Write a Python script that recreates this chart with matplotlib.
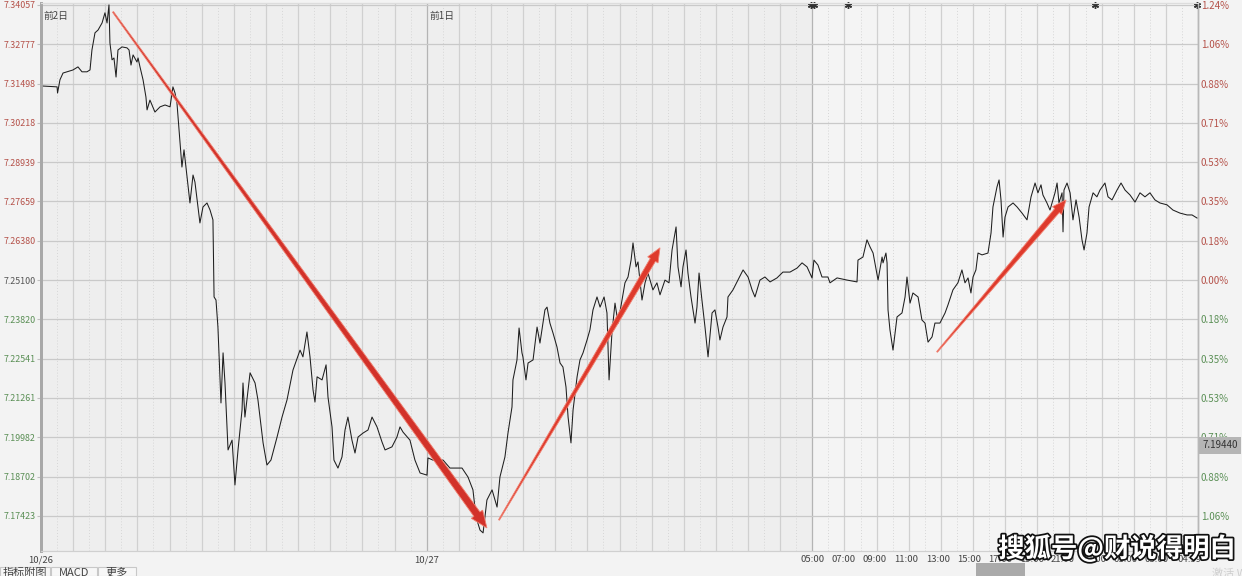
import matplotlib
matplotlib.use('Agg')
import matplotlib.pyplot as plt
import matplotlib.patheffects as pe
from matplotlib.patches import Polygon, Rectangle
from matplotlib.transforms import IdentityTransform
import numpy as np

plt.rcParams['font.family'] = ['Noto Sans CJK SC', 'DejaVu Sans']

# ---------------- data ----------------
# time in hours since the start of 10/26, price of the pair
hours_a = [0.00,1.00,1.03,1.18,1.37,1.99,2.30,2.55,2.86,3.05,3.17,3.36,3.55,3.80,3.98,4.11,4.23,4.29,4.42,4.54,
           4.67,4.79,5.04,5.35,5.48,5.60,5.73,5.97,6.04,6.16,6.35,6.53,6.60,6.78,7.09,7.41,7.72,8.03,8.21,8.34,
           8.46,8.59,8.77,8.90,9.09,9.27,9.46,9.58,9.89,10.08,10.33,10.52,10.70,10.77]
price_a = [7.3142,7.3139,7.3119,7.3162,7.3184,7.3194,7.3204,7.3188,7.3188,7.3194,7.3259,7.3315,7.3324,7.3347,7.3380,
           7.3347,7.3406,7.3282,7.3227,7.3233,7.3171,7.3259,7.3269,7.3266,7.3259,7.3210,7.3243,7.3220,7.3233,7.3204,
           7.3162,7.3106,7.3064,7.3096,7.3057,7.3074,7.3080,7.3074,7.3139,7.3119,7.3087,7.2999,7.2878,7.2934,7.2846,
           7.2761,7.2852,7.2829,7.2696,7.2748,7.2761,7.2738,7.2706,7.2455]

hours_b = [10.89,11.01,11.20,11.33,11.45,11.64,11.89,12.07,12.26,12.51,12.57,12.69,13.01,13.32,13.50,13.82,14.06,
           14.31,14.69,15.00,15.31,15.68,16.12,16.30,16.55,16.74,16.93,17.05,17.18,17.49,17.74,17.86,18.11,18.23,
           18.48,18.73,18.92,19.10,19.35,19.54,19.73,20.04,20.35,20.60,20.91,21.22,21.41,21.84,22.15,22.34,22.53,
           22.96,23.27,23.59,24.02,24.08,24.39,25.02,25.45,26.20,26.57,26.88,27.07,27.32,27.51]
price_b = [7.2445,7.2357,7.2110,7.2273,7.2175,7.1957,7.1989,7.1843,7.1957,7.2087,7.2175,7.2064,7.2208,7.2175,7.2120,
           7.1980,7.1908,7.1924,7.1999,7.2064,7.2120,7.2217,7.2282,7.2260,7.2341,7.2260,7.2152,7.2113,7.2195,7.2185,
           7.2234,7.2129,7.2032,7.1924,7.1898,7.1934,7.2022,7.2064,7.1989,7.1947,7.1999,7.2012,7.2022,7.2064,7.2032,
           7.1983,7.1957,7.1967,7.1999,7.2032,7.2015,7.1989,7.1924,7.1882,7.1875,7.1931,7.1924,7.1924,7.1898,7.1898,
           7.1869,7.1827,7.1739,7.1696,7.1687]

hours_c = [27.75,28.07,28.38,28.56,28.87,29.06,29.31,29.37,29.62,29.75,29.93,29.99,30.18,30.31,30.62,30.87,31.05,
           31.36,31.49,31.67,31.86,32.11,32.30,32.48,32.67,32.80,32.98,33.11,33.36,33.54,33.73,33.98,34.16,34.35,
           34.60,34.79,35.04,35.22,35.35,35.53,35.72,35.91,36.16,36.34,36.53,36.72,36.84,37.03,37.15,37.40,37.59,
           37.77,38.08,38.33,38.52,38.83,39.08,39.27,39.52,39.64,39.83,39.95,40.14,40.26,40.45,40.70,40.82,40.95,
           41.13,41.32,41.51,41.76,41.94,42.13,42.25,42.44,42.69,42.75,43.06,43.37,43.69,44.00,44.25,44.43,44.74,
           45.05,45.37,45.80,46.17,46.61,47.05,47.36,47.67,47.98]
price_c = [7.1794,7.1827,7.1771,7.1869,7.1934,7.2012,7.2097,7.2185,7.2250,7.2354,7.2273,7.2260,7.2185,7.2240,7.2250,
           7.2357,7.2305,7.2413,7.2422,7.2370,7.2338,7.2292,7.2240,7.2227,7.2162,7.2064,7.1980,7.2087,7.2195,7.2250,
           7.2273,7.2315,7.2348,7.2413,7.2455,7.2422,7.2455,7.2403,7.2185,7.2338,7.2435,7.2370,7.2445,7.2501,7.2520,
           7.2575,7.2631,7.2553,7.2569,7.2445,7.2501,7.2533,7.2478,7.2501,7.2462,7.2510,7.2501,7.2608,7.2683,7.2553,
           7.2488,7.2553,7.2608,7.2533,7.2455,7.2370,7.2422,7.2533,7.2445,7.2357,7.2260,7.2403,7.2413,7.2357,7.2315,
           7.2357,7.2390,7.2455,7.2478,7.2510,7.2543,7.2520,7.2478,7.2455,7.2510,7.2520,7.2504,7.2517,7.2536,7.2536,
           7.2549,7.2566,7.2553,7.2517]

hours_d = [48.10,48.35,48.60,48.97,49.10,49.54,50.16,50.78,50.84,51.15,51.40,51.59,51.78,52.09,52.34,52.40,52.58,
           52.65,52.71,52.83,53.02,53.27,53.58,53.77,53.89,54.08,54.26,54.58,54.82,55.01,55.20,55.45,55.63,55.94,
           56.26,56.44,56.75,57.06,57.31,57.50,57.69,57.87,58.00,58.18,58.31,58.56,58.93,59.12,59.24,59.49,59.62,
           59.74,59.87,59.99,60.18,60.49,60.74,61.05,61.36,61.61,61.86,62.04,62.23,62.35,62.60,62.79,63.10,63.23,
           63.35,63.54,63.60,63.66,63.85,64.04,64.22,64.41,64.60,64.78,64.91,65.09,65.22,65.47,65.71,65.90,66.21,
           66.40,66.65,66.96,67.21,67.46,67.77,68.08,68.39,68.70,69.01,69.32,69.63,70.07,70.44,70.88,71.32,71.63,
           71.94]
price_d = [7.2575,7.2559,7.2520,7.2520,7.2501,7.2517,7.2510,7.2504,7.2575,7.2585,7.2641,7.2618,7.2598,7.2510,7.2585,
           7.2566,7.2598,7.2566,7.2413,7.2348,7.2282,7.2390,7.2403,7.2455,7.2520,7.2435,7.2468,7.2455,7.2380,7.2370,
           7.2308,7.2325,7.2370,7.2370,7.2403,7.2429,7.2478,7.2501,7.2543,7.2501,7.2517,7.2468,7.2520,7.2543,7.2598,
           7.2592,7.2598,7.2663,7.2748,7.2813,7.2836,7.2771,7.2650,7.2715,7.2748,7.2761,7.2748,7.2728,7.2706,7.2781,
           7.2826,7.2794,7.2820,7.2787,7.2761,7.2738,7.2794,7.2826,7.2761,7.2794,7.2667,7.2803,7.2826,7.2794,7.2706,
           7.2771,7.2715,7.2641,7.2608,7.2663,7.2748,7.2794,7.2781,7.2803,7.2826,7.2781,7.2771,7.2803,7.2826,7.2803,
           7.2787,7.2764,7.2794,7.2781,7.2794,7.2771,7.2761,7.2755,7.2738,7.2728,7.2722,7.2722,7.2712]

price_ticks = [7.34057, 7.32777, 7.31498, 7.30218, 7.28939, 7.27659, 7.26380, 7.25100,
               7.23820, 7.22541, 7.21261, 7.19982, 7.18702, 7.17423]
price_labels = ['7.34057', '7.32777', '7.31498', '7.30218', '7.28939', '7.27659', '7.26380', '7.25100',
                '7.23820', '7.22541', '7.21261', '7.19982', '7.18702', '7.17423']
pct_labels = ['1.24%', '1.06%', '0.88%', '0.71%', '0.53%', '0.35%', '0.18%', '0.00%',
              '0.18%', '0.35%', '0.53%', '0.71%', '0.88%', '1.06%']
base_price = 7.25100

time_ticks = [0, 24, 48, 49.95, 51.9, 53.85, 55.8, 57.75, 59.7, 61.65, 63.6, 65.55, 67.5, 69.45, 71.5]
time_labels = ['10/26', '10/27', '05:00', '07:00', '09:00', '11:00', '13:00', '15:00', '17:00',
               '19:00', '21:00', '23:00', '01:00', '03:00', '04:59']
day_labels = ['前2日', '前1日']
day_starts = [0, 24]
event_hours = [47.9, 48.1, 50.2, 65.6, 71.95]
cursor_price = '7.19440'

# trend arrows: (start hour, start price, end hour, end price)
arrows = [(4.48, 7.3383, 27.75, 7.1703),
          (28.50, 7.1729, 38.52, 7.2615),
          (55.76, 7.2276, 63.79, 7.2771)]

# ---------------- figure ----------------
W, H = 1242, 576
fig = plt.figure(figsize=(W / 100, H / 100), dpi=100, facecolor='#f3f3f3')
ax = fig.add_axes([41 / W, 25 / H, 1157 / W, 548 / H])
ax.set_xlim(0, 72)
ax.set_ylim(7.1628, 7.3412)
ax.set_facecolor('#eeeeee')
ax.axvspan(48, 72, color='#f4f4f4', zorder=0, lw=0)

for hh in range(0, 73):
    if hh % 2 == 0:
        c = '#b4b4b4' if hh in (24, 48) else '#d0d0d0'
        ax.axvline(hh, color=c, lw=0.9, zorder=1)
    else:
        ax.axvline(hh, color='#d6d6d6', lw=0.7, ls=(0, (1, 2)), zorder=1)
for t in price_ticks:
    ax.axhline(t, color='#c9c9c9', lw=0.9, zorder=1)

hours = hours_a + hours_b + hours_c + hours_d
price = price_a + price_b + price_c + price_d
ax.plot(hours, price, color='#1e1e1e', lw=0.75, zorder=3)

red = '#b5524a'
green = '#5a8f55'
grey = '#555555'


def col(p, zero_col):
    if abs(p - base_price) < 1e-6:
        return zero_col
    return red if p > base_price else green


ax.set_yticks(price_ticks)
ax.set_yticklabels(price_labels, fontsize=6.4)
for lab, p in zip(ax.get_yticklabels(), price_ticks):
    lab.set_color(col(p, grey))
ax.tick_params(axis='y', length=3, color='#c0c0c0', pad=1)

ax.set_xticks(time_ticks)
ax.set_xticklabels(time_labels, fontsize=6.8, color='#444444')
ax.tick_params(axis='x', length=0, pad=3)

axr = ax.twinx()
axr.set_ylim(ax.get_ylim())
axr.set_yticks(price_ticks)
axr.set_yticklabels(pct_labels, fontsize=7)
for lab, p in zip(axr.get_yticklabels(), price_ticks):
    lab.set_color(col(p, red))
axr.tick_params(axis='y', length=0, pad=2)

for a in (ax, axr):
    a.spines['left'].set_color('#a8a8a8')
    a.spines['left'].set_linewidth(2)
    a.spines['right'].set_color('#b8b8b8')
    a.spines['right'].set_linewidth(1)
    a.spines['top'].set_color('#dddddd')
    a.spines['bottom'].set_color('#d0d0d0')

for d, s in zip(day_labels, day_starts):
    ax.text(s + 0.15, 0.985, d, transform=ax.get_xaxis_transform(), fontsize=7,
            color='#444444', va='top', ha='left', zorder=5)

ax.plot(event_hours, [0.996] * len(event_hours), transform=ax.get_xaxis_transform(),
        ls='none', marker=(6, 2, 0), ms=5, color='#333333', mew=1, clip_on=False, zorder=6)

# tapered arrows drawn in display space
fig.canvas.draw()


def taper_arrow(x0, y0, x1, y1, w0, w1, hw, hl, color):
    p0 = ax.transData.transform((x0, y0))
    p1 = ax.transData.transform((x1, y1))
    d = p1 - p0
    L = np.hypot(*d)
    u = d / L
    n = np.array([-u[1], u[0]])
    neck = p1 - u * hl
    pts = [p0 + n * w0 / 2, neck + n * w1 / 2, neck + n * hw / 2, p1,
           neck - n * hw / 2, neck - n * w1 / 2, p0 - n * w0 / 2]
    fig.patches.append(Polygon(pts, closed=True, transform=IdentityTransform(),
                               facecolor=color, edgecolor='#f08070', lw=0.6, zorder=10))


taper_arrow(*arrows[0], 1.2, 7.5, 14, 17, '#d2322a')
taper_arrow(*arrows[1], 1.0, 6.0, 12, 14, '#de3a2c')
taper_arrow(*arrows[2], 1.0, 6.0, 12, 14, '#de3a2c')

# cursor price box on right axis
fig.patches.append(Rectangle((1199 / W, (576 - 454) / H), 42 / W, 17 / H, transform=fig.transFigure,
                             facecolor='#b5b5b5', edgecolor='none', zorder=5))
fig.text(1220 / W, (576 - 445.5) / H, cursor_price, fontsize=7, color='#333333',
         ha='center', va='center', zorder=6)

# cursor time box
fig.patches.append(Rectangle((976 / W, 0), 49 / W, 13 / H, transform=fig.transFigure,
                             facecolor='#aaaaaa', edgecolor='none', zorder=5))

# bottom tabs
for x0, w, t in [(0, 50, '指标附图'), (51, 46, 'MACD'), (98, 38, '更多')]:
    fig.patches.append(Rectangle((x0 / W, 0), w / W, 9 / H, transform=fig.transFigure,
                                 facecolor='#f7f7f7', edgecolor='#c8c8c8', lw=0.8, zorder=5))
    fig.text((x0 + w / 2) / W, -2 / H, t, fontsize=8, color='#444444', ha='center', va='bottom', zorder=6)
fig.text(1212 / W, -3 / H, '激活 W', fontsize=8, color='#cfcfcf', ha='left', va='bottom')

# watermark
fig.text(1117 / W, (576 - 549) / H, '搜狐号@财说得明白', fontsize=19, fontweight='bold',
         color='white', ha='center', va='center', zorder=20,
         path_effects=[pe.withStroke(linewidth=2.5, foreground='#111111')])

fig.savefig('out.png', dpi=100, facecolor=fig.get_facecolor())
